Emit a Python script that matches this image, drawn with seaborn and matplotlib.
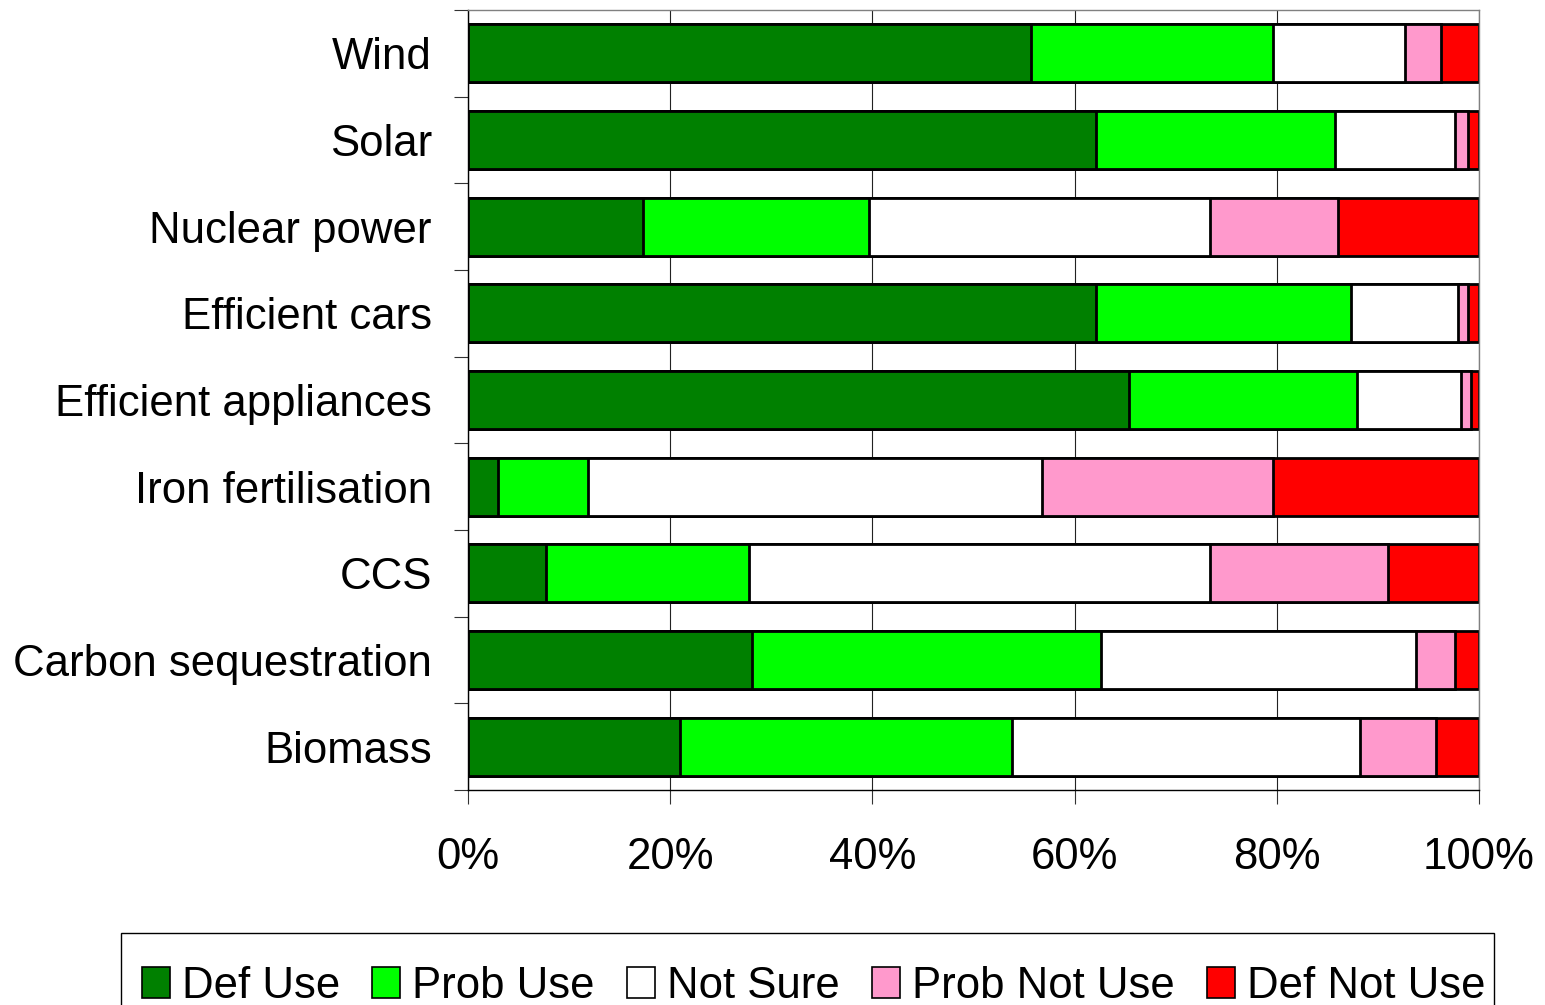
import numpy as np
import pandas as pd
import matplotlib
matplotlib.use("Agg")
import matplotlib.pyplot as plt
from matplotlib.patches import Patch, Rectangle
from matplotlib.ticker import PercentFormatter, FixedLocator
import seaborn as sns

categories = ["Wind", "Solar", "Nuclear power", "Efficient cars", "Efficient appliances",
              "Iron fertilisation", "CCS", "Carbon sequestration", "Biomass"]
def_use = [55.7, 62.1, 17.3, 62.1, 65.4, 3.0, 7.7, 28.1, 21.0]
prob_use = [23.9, 23.7, 22.4, 25.2, 22.5, 8.9, 20.1, 34.5, 32.8]
not_sure = [13.1, 11.8, 33.7, 10.6, 10.3, 44.9, 45.6, 31.2, 34.4]
prob_not_use = [3.5, 1.3, 12.7, 1.0, 1.0, 22.8, 17.6, 3.8, 7.5]
def_not_use = [3.8, 1.1, 13.9, 1.1, 0.8, 20.4, 9.0, 2.4, 4.3]

series_names = ["Def Use", "Prob Use", "Not Sure", "Prob Not Use", "Def Not Use"]
series_colors = ["#008000", "#00FF00", "#FFFFFF", "#FF99CC", "#FF0000"]
x_ticks = [0, 20, 40, 60, 80, 100]

sns.set_theme(style="white")
plt.rcParams["font.family"] = ["Liberation Sans", "DejaVu Sans"]
plt.rcParams["text.color"] = "black"
plt.rcParams["axes.labelcolor"] = "black"
plt.rcParams["xtick.labelcolor"] = "black"
plt.rcParams["ytick.labelcolor"] = "black"

W, H = 1545, 1005
fig = plt.figure(figsize=(W / 100, H / 100), dpi=100)
ax = fig.add_axes([468 / W, 1 - 790 / H, (1479 - 468) / W, (790 - 10) / H])

series = [def_use, prob_use, not_sure, prob_not_use, def_not_use]
cum = np.cumsum(np.array(series), axis=0)
df = pd.DataFrame({"cat": categories})
for i in range(len(series) - 1, -1, -1):
    df["val"] = cum[i]
    sns.barplot(data=df, x="val", y="cat", order=categories, orient="h",
                color=series_colors[i], saturation=1, width=0.666,
                edgecolor="black", linewidth=2.0, errorbar=None, ax=ax)

ax.set_xlim(0, 100)
ax.set_ylim(8.5, -0.5)
ax.set_xlabel("")
ax.set_ylabel("")
ax.xaxis.set_major_locator(FixedLocator(x_ticks))
ax.xaxis.set_major_formatter(PercentFormatter(100, decimals=0))
ax.set_axisbelow(True)
ax.grid(axis="x", color="#222222", linewidth=0.8)
ax.grid(axis="y", visible=False)

ax.tick_params(axis="x", which="major", bottom=True, length=10, width=0.8,
               color="#333333", direction="out", pad=24, labelsize=31.5,
               labelcolor="black")
ax.set_yticks(range(len(categories)))
ax.set_yticklabels(categories)
ax.tick_params(axis="y", which="major", left=True, length=0, pad=26, labelsize=31.5,
               labelcolor="black")
ax.set_yticks(np.arange(-0.5, len(categories), 1.0), minor=True)
ax.tick_params(axis="y", which="minor", left=True, length=10, width=0.8,
               color="#333333", direction="out")

for s in ["left", "bottom"]:
    ax.spines[s].set_color("black")
    ax.spines[s].set_linewidth(1.0)
for s in ["top", "right"]:
    ax.spines[s].set_color("#808080")
    ax.spines[s].set_linewidth(1.0)
    ax.spines[s].set_visible(True)

# legend frame (extends past the bottom edge like the reference)
frame = Rectangle((121 / W, -0.1), (1494 - 121) / W, 1 - 933 / H + 0.1,
                  transform=fig.transFigure, facecolor="white", edgecolor="black",
                  linewidth=1.0, zorder=0)
fig.patches.append(frame)

handles = [Patch(facecolor=c, edgecolor="black", linewidth=1.2, label=n)
           for n, c in zip(series_names, series_colors)]
leg = fig.legend(handles=handles, loc="upper left",
                 bbox_to_anchor=(142 / W, 1 - 966 / H), ncol=5,
                 fontsize=31.5, frameon=False,
                 borderpad=0, borderaxespad=0, handlelength=0.64, handleheight=0.7,
                 handletextpad=0.27, columnspacing=0.74)

fig.savefig("out.png", dpi=100)
